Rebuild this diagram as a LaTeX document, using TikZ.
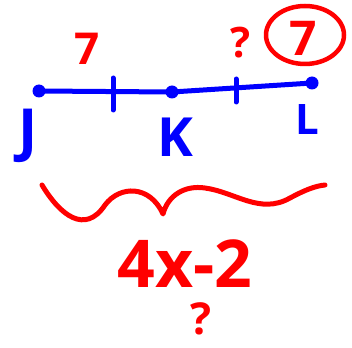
\documentclass[tikz,border=0pt]{standalone}
\usepackage{fontspec}
\setmainfont{Open Sans}
\begin{document}
\begin{tikzpicture}[x=1pt,y=-1pt,
  pen/.style={line width=5pt,line cap=round,line join=round},
  bluetxt/.style={text=blue,inner sep=0pt},
  redtxt/.style={text=red,inner sep=0pt},
  dot/.style={circle,fill=blue,minimum size=13pt,inner sep=0pt}]
\useasboundingbox (0,0) rectangle (352,347);
\fill[white] (0,0) rectangle (352,347);
% points
\node[dot] (J) at (39,91) {};
\node[dot] (K) at (172,92) {};
\node[dot] (L) at (312,83) {};
\draw[pen,blue] (J.center) -- (K.center) -- (L.center);
% ticks
\coordinate (t1a) at (113,78); \coordinate (t1b) at (113,110);
\coordinate (t2a) at (236,79); \coordinate (t2b) at (236,102);
\draw[pen,blue] (t1a) -- (t1b);
\draw[pen,blue] (t2a) -- (t2b);
% labels
\node[bluetxt,font=\bfseries\fontsize{58}{58}\selectfont] (lJ) at (28,136) {J};
\node[bluetxt,font=\bfseries\fontsize{54}{54}\selectfont] (lK) at (175,137) {K};
\node[bluetxt,font=\bfseries\fontsize{42}{42}\selectfont] (lL) at (307,120) {L};
\node[redtxt,font=\bfseries\fontsize{44}{44}\selectfont] (s1) at (87,49) {7};
\node[redtxt,font=\bfseries\fontsize{42}{42}\selectfont] (q1) at (241,43) {?};
\node[redtxt,font=\bfseries\fontsize{48}{48}\selectfont] (s2) at (303,38) {7};
\draw[red,line width=4.5pt] (305,35) ellipse [x radius=39pt,y radius=29pt];
% brace
\coordinate (b0) at (42,185);
\coordinate (bc) at (163,214);
\coordinate (b1) at (325,185);
\draw[pen,red] (b0) .. controls (60,215) and (85,235) .. (105,205)
  .. controls (120,185) and (150,185) .. (bc)
  .. controls (168,195) and (185,185) .. (205,188)
  .. controls (235,192) and (260,215) .. (290,198)
  .. controls (305,190) and (315,186) .. (b1);
% expression
\node[redtxt,font=\bfseries\fontsize{66}{66}\selectfont,anchor=base] (ex) at (185,287) {4x-2};
\node[redtxt,font=\bfseries\fontsize{44}{44}\selectfont] (q2) at (201,319) {?};
\end{tikzpicture}
\end{document}
